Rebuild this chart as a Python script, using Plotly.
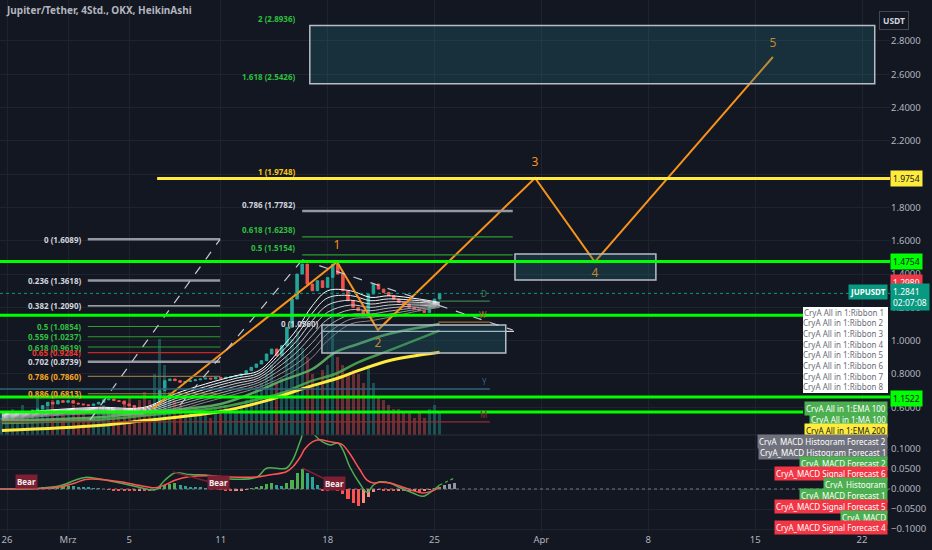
import pandas as pd
import plotly.graph_objects as go

# ---------------- values ----------------
# Heikin Ashi closes, sampled every 8 hours from 25 Feb 16:00 (2024)
candle_start = "2024-02-25 16:00"
closes = [
    0.53,
    0.54, 0.55, 0.56,     # Feb 26
    0.56, 0.57, 0.58,     # Feb 27
    0.59, 0.61, 0.63,     # Feb 28
    0.62, 0.64, 0.63,     # Feb 29
    0.64, 0.625, 0.62,    # Mar 1
    0.615, 0.61, 0.62,    # Mar 2
    0.63, 0.645, 0.65,    # Mar 3
    0.64, 0.635, 0.62,    # Mar 4
    0.61, 0.60, 0.59,     # Mar 5
    0.58, 0.575, 0.62,    # Mar 6
    0.70, 0.76, 0.77,     # Mar 7
    0.76, 0.75, 0.755,    # Mar 8
    0.76, 0.765, 0.77,    # Mar 9
    0.775, 0.77, 0.78,    # Mar 10
    0.775, 0.78, 0.785,   # Mar 11
    0.79, 0.80, 0.82,     # Mar 12
    0.84, 0.86, 0.88,     # Mar 13
    0.92, 0.95, 0.91,     # Mar 14
    0.97, 1.08, 1.25,     # Mar 15
    1.40, 1.46, 1.34,     # Mar 16
    1.30, 1.36, 1.32,     # Mar 17
    1.38, 1.46, 1.40,     # Mar 18
    1.30, 1.24, 1.20,     # Mar 19
    1.18, 1.15, 1.28,     # Mar 20
    1.34, 1.31, 1.29,     # Mar 21
    1.27, 1.25, 1.23,     # Mar 22
    1.22, 1.20, 1.19,     # Mar 23
    1.18, 1.17, 1.20,     # Mar 24
    1.25, 1.284,          # Mar 25
]
volumes = [
    5,
    4, 6, 5,  7, 5, 6,  9, 6, 7,  8, 5, 6,  6, 7, 5,  5, 4, 6,  5, 7, 6,
    6, 5, 8,  9, 7, 8,  10, 8, 14,  22, 16, 10,  8, 7, 6,  5, 6, 5,  5, 4, 6,
    6, 7, 5,  6, 7, 8,  9, 11, 12,  14, 16, 12,  13, 18, 22,  24, 20, 18,
    14, 12, 15,  16, 36, 18,  16, 14, 15,  14, 12, 16,  12, 9, 8,  7, 6, 6,
    5, 5, 4,  5, 4, 6,
    7, 5,
]
hist_vals = [
    0.000,
    0.000, 0.000, 0.001,  0.001, 0.001, 0.002,  0.002, 0.003, 0.004,
    0.005, 0.006, 0.007,  0.008, 0.007, 0.006,  0.005, 0.004, 0.002,
    0.001, 0.000, -0.002,  -0.003, -0.004, -0.004,  -0.005, -0.005, -0.004,
    -0.004, -0.005, -0.002,  0.006, 0.010, 0.012,  0.014, 0.010, 0.008,
    0.005, 0.004, 0.003,  0.002, 0.001, 0.000,  -0.002, -0.004, -0.005,
    -0.004, -0.003, -0.001,  0.002, 0.004, 0.008,  0.012, 0.015, 0.010,
    0.008, 0.014, 0.022,  0.040, 0.050, 0.040,  0.030, 0.010, -0.003,
    -0.004, -0.002, -0.006,  -0.012, -0.025, -0.035,  -0.042, -0.035, -0.020,
    -0.008, -0.002, -0.004,  -0.005, -0.006, -0.004,  -0.006, -0.008, -0.006,
    -0.007, -0.005, -0.002,
    0.002, 0.005,
]
hist_fc_times = ["2024-03-25 16:00", "2024-03-26 00:00", "2024-03-26 08:00"]
hist_fc_vals = [0.010, 0.013, 0.015]

macd_times = [
    "2024-02-25 13:00", "2024-02-28 04:00", "2024-02-29 11:00", "2024-03-01 11:00",
    "2024-03-02 03:00", "2024-03-03 02:00", "2024-03-04 10:00", "2024-03-05 17:00",
    "2024-03-06 17:00", "2024-03-07 08:00", "2024-03-08 00:00", "2024-03-09 00:00",
    "2024-03-10 07:00", "2024-03-11 14:00", "2024-03-13 09:00", "2024-03-14 00:00",
    "2024-03-15 07:00", "2024-03-15 17:00", "2024-03-16 05:00", "2024-03-16 12:00",
    "2024-03-17 00:00", "2024-03-17 12:00", "2024-03-18 04:00", "2024-03-18 16:00",
    "2024-03-19 00:00", "2024-03-19 11:00", "2024-03-20 02:00", "2024-03-20 14:00",
    "2024-03-21 00:00", "2024-03-21 10:00", "2024-03-22 02:00", "2024-03-22 18:00",
    "2024-03-23 14:00", "2024-03-24 06:00", "2024-03-24 22:00", "2024-03-25 08:00",
]
macd_vals = [
    0.000, 0.002, 0.008, 0.022, 0.029, 0.025, 0.015, 0.004, -0.002, 0.022,
    0.040, 0.036, 0.034, 0.025, 0.030, 0.052, 0.052, 0.072, 0.120, 0.145,
    0.140, 0.122, 0.110, 0.115, 0.098, 0.055, 0.015, -0.008, 0.010, 0.018,
    0.015, 0.003, -0.010, -0.018, -0.003, 0.010,
]
signal_vals = [
    0.000, 0.001, 0.005, 0.015, 0.024, 0.024, 0.018, 0.009, 0.003, 0.010,
    0.022, 0.031, 0.033, 0.030, 0.030, 0.034, 0.043, 0.055, 0.080, 0.100,
    0.118, 0.123, 0.118, 0.115, 0.110, 0.088, 0.050, 0.022, 0.015, 0.017,
    0.015, 0.007, -0.004, -0.010, -0.004, 0.004,
]
macd_fc_times = ["2024-03-25 08:00", "2024-03-26 08:00"]
macd_fc_vals = [0.010, 0.028]

bear_times = ["2024-02-27 06:00", "2024-03-10 20:00", "2024-03-18 11:30"]
bear_vals = [0.020, 0.017, 0.015]
div_times = [["2024-03-07 21:00", "2024-03-10 07:00"], ["2024-03-16 08:00", "2024-03-17 23:00"]]
div_vals = [[0.0425, 0.0175], [0.0525, 0.0225]]

ribbon_times = [
    "2024-02-25 16:00", "2024-02-29 00:00", "2024-03-03 00:00", "2024-03-06 00:00",
    "2024-03-08 00:00", "2024-03-10 00:00", "2024-03-12 00:00", "2024-03-13 12:00",
    "2024-03-15 00:00", "2024-03-16 00:00", "2024-03-17 00:00", "2024-03-18 00:00",
    "2024-03-19 12:00", "2024-03-20 20:00", "2024-03-22 00:00", "2024-03-24 00:00",
    "2024-03-25 08:00",
]
ribbon_1 = [0.560, 0.585, 0.600, 0.600, 0.680, 0.740, 0.790, 0.820, 0.960, 1.070, 1.210, 1.300, 1.300, 1.260, 1.270, 1.250, 1.230]
ribbon_2 = [0.554, 0.580, 0.594, 0.593, 0.666, 0.724, 0.774, 0.806, 0.934, 1.036, 1.166, 1.257, 1.271, 1.240, 1.251, 1.240, 1.226]
ribbon_3 = [0.549, 0.575, 0.589, 0.586, 0.651, 0.709, 0.759, 0.791, 0.909, 1.001, 1.121, 1.214, 1.243, 1.220, 1.233, 1.230, 1.221]
ribbon_4 = [0.543, 0.570, 0.583, 0.579, 0.637, 0.693, 0.743, 0.777, 0.883, 0.967, 1.077, 1.171, 1.214, 1.200, 1.214, 1.220, 1.217]
ribbon_5 = [0.537, 0.565, 0.577, 0.571, 0.623, 0.677, 0.727, 0.763, 0.857, 0.933, 1.033, 1.129, 1.186, 1.180, 1.196, 1.210, 1.213]
ribbon_6 = [0.531, 0.560, 0.571, 0.564, 0.609, 0.661, 0.711, 0.749, 0.831, 0.899, 0.989, 1.086, 1.157, 1.160, 1.177, 1.200, 1.209]
ribbon_7 = [0.526, 0.555, 0.566, 0.557, 0.594, 0.646, 0.696, 0.734, 0.806, 0.864, 0.944, 1.043, 1.129, 1.140, 1.159, 1.190, 1.204]
ribbon_8 = [0.520, 0.550, 0.560, 0.550, 0.580, 0.630, 0.680, 0.720, 0.780, 0.830, 0.900, 1.000, 1.100, 1.120, 1.140, 1.180, 1.200]

ma_times = [
    "2024-02-25 16:00", "2024-03-03 00:00", "2024-03-06 00:00", "2024-03-11 00:00",
    "2024-03-14 00:00", "2024-03-15 00:00", "2024-03-17 00:00", "2024-03-18 12:00",
    "2024-03-20 00:00", "2024-03-22 00:00", "2024-03-25 08:00",
]
ema100 = [0.520, 0.540, 0.570, 0.620, 0.720, 0.760, 0.830, 0.930, 0.980, 1.040, 1.100]
ma100 = [0.505, 0.525, 0.550, 0.600, 0.660, 0.686, 0.760, 0.800, 0.870, 0.940, 1.060]
ema200 = [0.460, 0.490, 0.520, 0.575, 0.640, 0.670, 0.730, 0.770, 0.820, 0.880, 0.930]

# Elliott wave drawing
wave_times = ["2024-03-06 12:00", "2024-03-18 14:40", "2024-03-21 07:00",
              "2024-03-31 14:00", "2024-04-04 12:00", "2024-04-16 04:00"]
wave_prices = [0.590, 1.473, 1.064, 1.977, 1.473, 2.704]
wave_labels = ["1", "2", "3", "4", "5"]
wave_label_prices = [1.569, 0.980, 2.067, 1.400, 2.782]

# Fibonacci retracement (left) and extension (upper)
fib_left_ratios = ["0", "0.236", "0.382", "0.5", "0.559", "0.618", "0.65", "0.702", "0.786", "0.886"]
fib_left_prices = [1.6089, 1.3618, 1.2090, 1.0854, 1.0237, 0.9619, 0.9284, 0.8739, 0.7860, 0.6813]
fib_left_span = ["2024-03-02 07:00", "2024-03-10 23:00"]
fib_up_ratios = ["0.5", "0.618", "0.786", "1", "1.618", "2"]
fib_up_prices = [1.5154, 1.6238, 1.7782, 1.9748, 2.5426, 2.8936]
fib_up_span = ["2024-03-16 08:00", "2024-03-30 03:00"]
fib_zero_price = 1.0560
fib_zero_span = ["2024-03-17 15:00", "2024-03-30 05:00"]
yellow_level = 1.9748
yellow_span = ["2024-03-06 20:00", "2024-04-23 20:00"]

# horizontal support / resistance levels
green_levels = [1.4754, 1.1522, 0.662, 0.572]
letter_levels = [("D", 1.238), ("W", 1.112), ("Y", 0.710), ("M", 0.512)]
letter_span_end = "2024-03-28 15:00"
last_price = 1.2841

# target boxes [x0, x1, y0, y1]
boxes = [
    ["2024-03-16 20:00", "2024-04-22 20:00", 2.5426, 2.8936],
    ["2024-03-30 06:30", "2024-04-08 12:00", 1.365, 1.521],
    ["2024-03-17 15:00", "2024-03-29 16:00", 0.926, 1.094],
]
dashed_lines = [
    [("2024-03-02 10:30", 0.524), ("2024-03-10 23:00", 1.6089)],
    [("2024-03-08 08:00", 0.614), ("2024-03-16 08:00", 1.485)],
    [("2024-03-16 08:00", 1.485), ("2024-03-30 03:00", 1.064)],
]

date_ticks = ["2024-02-26", "2024-03-01", "2024-03-05", "2024-03-11", "2024-03-18",
              "2024-03-25", "2024-04-01", "2024-04-08", "2024-04-15", "2024-04-22"]
date_labels = ["26", "Mrz", "5", "11", "18", "25", "Apr", "8", "15", "22"]
price_ticks = [0.6, 0.8, 1.0, 1.2, 1.4, 1.6, 1.8, 2.0, 2.2, 2.4, 2.6, 2.8]
macd_ticks = [-0.1, -0.05, 0.0, 0.05, 0.1]

# ---------------- styling ----------------
BG = "#131722"
GRID = "#1f232e"
TXT = "#b2b5be"
FONT = "Noto Sans"
UP, DOWN = "#26a69a", "#ef5350"
LIME = "#00ff00"
PLOT_W, PLOT_H = 890, 532
PRICE_BOTTOM = 1 - 435 / PLOT_H


def pxx(x):
    return x / PLOT_W


def pxy(y):
    return 1 - y / PLOT_H


candle_times = pd.date_range(candle_start, periods=len(closes), freq="8h")
opens = [closes[0]] + closes[:-1]
highs = [max(o, c) for o, c in zip(opens, closes)]
lows = [min(o, c) for o, c in zip(opens, closes)]
rising = [c >= o for o, c in zip(opens, closes)]
bar_w = 8 * 3600 * 1000 * 0.6

fig = go.Figure()

# volume (hidden base axis y, drawn first)
fig.add_bar(x=candle_times, y=volumes, width=bar_w, yaxis="y",
            marker=dict(color=["rgba(38,166,154,0.4)" if r else "rgba(239,83,80,0.4)" for r in rising],
                        line_width=0))

# candles
fig.add_trace(go.Candlestick(
    x=candle_times, open=opens, high=highs, low=lows, close=closes, yaxis="y3",
    increasing=dict(line=dict(color=UP, width=1), fillcolor=UP),
    decreasing=dict(line=dict(color=DOWN, width=1), fillcolor=DOWN),
    whiskerwidth=0, hoverinfo="skip"))

# ribbons
ribbons = [ribbon_1, ribbon_2, ribbon_3, ribbon_4, ribbon_5, ribbon_6, ribbon_7, ribbon_8]
ribbon_colors = ["#ffffff", "#ededed", "#dcdcdc", "#cbcbcb", "#bababa", "#a9a9a9", "#989898", "#878787"]
for vals, col in zip(ribbons, ribbon_colors):
    fig.add_scatter(x=ribbon_times, y=vals, yaxis="y3", mode="lines",
                    line=dict(color=col, width=1, shape="spline"), hoverinfo="skip")

fig.add_scatter(x=ma_times, y=ma100, yaxis="y3", mode="lines",
                line=dict(color="#4caf50", width=2.5, shape="spline"), opacity=0.85)
fig.add_scatter(x=ma_times, y=ema100, yaxis="y3", mode="lines",
                line=dict(color="#66bb6a", width=2.5, shape="spline"), opacity=0.85)
fig.add_scatter(x=ma_times, y=ema200, yaxis="y3", mode="lines",
                line=dict(color="#ffeb3b", width=3, shape="spline"))

# wave drawing
fig.add_scatter(x=wave_times, y=wave_prices, yaxis="y3", mode="lines",
                line=dict(color="#f7931a", width=2))
fig.add_scatter(x=wave_times[1:], y=wave_label_prices, yaxis="y3", mode="text",
                text=wave_labels, textfont=dict(color="#f7931a", size=12, family=FONT))

# MACD pane
hist_colors = []
for i, v in enumerate(hist_vals):
    prev = hist_vals[i - 1] if i else 0
    if v >= 0:
        hist_colors.append("#4caf50" if v >= prev else "#26a69a")
    else:
        hist_colors.append("#ff5252" if v <= prev else "#ff8a80")
fig.add_bar(x=candle_times, y=hist_vals, width=bar_w, yaxis="y2",
            marker=dict(color=hist_colors, line_width=0))
fig.add_bar(x=hist_fc_times, y=hist_fc_vals, width=bar_w, yaxis="y2",
            marker=dict(color="#b2b5be", line_width=0), opacity=0.8)
fig.add_scatter(x=macd_times, y=macd_vals, yaxis="y2", mode="lines",
                line=dict(color="#4caf50", width=1.5, shape="spline"))
fig.add_scatter(x=macd_times, y=signal_vals, yaxis="y2", mode="lines",
                line=dict(color="#ff5252", width=1.5, shape="spline"))
fig.add_scatter(x=macd_fc_times, y=macd_fc_vals, yaxis="y2", mode="lines",
                line=dict(color="#4caf50", width=1.2, dash="dot"))

shapes = []
ann = []


def seg(x0, x1, y, color, width=1, dash="solid", xref="x", yref="y3"):
    shapes.append(dict(type="line", xref=xref, yref=yref, x0=x0, x1=x1, y0=y, y1=y,
                       line=dict(color=color, width=width, dash=dash), layer="above"))


# left fib
left_label_col = ["#d1d4dc", "#d1d4dc", "#d1d4dc", "#2fbf3f", "#2fbf3f", "#2fbf3f",
                  "#e53935", "#d1d4dc", "#f5a623", "#f5a623"]
left_line_col = ["#9598a1", "#9598a1", "#c8c8c8", "#2e9e2e", "#2e9e2e", "#2e9e2e",
                 "#c62828", "#9598a1", "#8d7045", "#a08040"]
left_line_w = [2.5, 2.5, 1.3, 1.1, 1.1, 1.1, 1.1, 2.5, 1.1, 1.1]
for r, p, lc, c, w in zip(fib_left_ratios, fib_left_prices, left_label_col, left_line_col, left_line_w):
    seg(fib_left_span[0], fib_left_span[1], p, c, w)
    ann.append(dict(x=fib_left_span[0], y=p, xref="x", yref="y3", text=f"<b>{r} ({p:.4f})</b>",
                    xanchor="right", yanchor="middle", xshift=-5, showarrow=False,
                    font=dict(color=lc, size=8, family=FONT)))

# upper fib
up_label_col = ["#2fbf3f", "#2fbf3f", "#d1d4dc", "#f5c518", "#2fbf3f", "#2fbf3f"]
up_line_col = ["#2e9e2e", "#2e9e2e", "#9598a1", None, None, None]
up_line_w = [1.1, 1.1, 2.5, 0, 0, 0]
for r, p, lc, c, w in zip(fib_up_ratios, fib_up_prices, up_label_col, up_line_col, up_line_w):
    if c:
        seg(fib_up_span[0], fib_up_span[1], p, c, w)
    ann.append(dict(x=fib_up_span[0], y=p, xref="x", yref="y3", text=f"<b>{r} ({p:.4f})</b>",
                    xanchor="right", yanchor="middle", xshift=-5, yshift=7, showarrow=False,
                    font=dict(color=lc, size=8, family=FONT)))
seg(fib_zero_span[0], fib_zero_span[1], fib_zero_price, "#d1d4dc", 1.3)
ann.append(dict(x=fib_zero_span[0], y=fib_zero_price, xref="x", yref="y3",
                text=f"<b>0 ({fib_zero_price:.4f})</b>", xanchor="right", yanchor="middle",
                xshift=-2, yshift=8, showarrow=False, font=dict(color="#d1d4dc", size=8, family=FONT)))

# boxes
for x0, x1, y0, y1 in boxes:
    shapes.append(dict(type="rect", xref="x", yref="y3", x0=x0, x1=x1, y0=y0, y1=y1,
                       fillcolor="rgba(38,110,130,0.28)", line=dict(color="#b8bcc6", width=1.5),
                       layer="above"))

# dashed guide lines
for (xa, ya), (xb, yb) in dashed_lines:
    shapes.append(dict(type="line", xref="x", yref="y3", x0=xa, y0=ya, x1=xb, y1=yb,
                       line=dict(color="#c8cad0", width=1.2, dash="dash"), layer="above"))

# horizontal levels
seg(yellow_span[0], yellow_span[1], yellow_level, "#ffeb3b", 3)
green_ends = [1.0, pxx(803), 1.0, pxx(803)]
for p, e in zip(green_levels, green_ends):
    seg(0, e, p, LIME, 3, xref="paper")
letter_cols = {"D": "#3f7d4a", "W": "#a0702a", "Y": "#2f6478", "M": "#8f2f2f"}
for letter, p in letter_levels:
    start = "2024-03-25 06:00" if letter in "DW" else "2024-02-25 13:00"
    seg(start, letter_span_end, p, letter_cols[letter], 1.3)
    ann.append(dict(x=letter_span_end, y=p, xref="x", yref="y3", text=letter, xanchor="right",
                    yanchor="bottom", showarrow=False, xshift=-1,
                    font=dict(color=letter_cols[letter], size=8, family=FONT)))
seg(0, 1, last_price, "#089981", 1, "dot", xref="paper")

# MACD pane guides
seg(0, 1, 0, "#787b86", 1, "dot", xref="paper", yref="y2")
for (xa, xb), (va, vb) in zip(div_times, div_vals):
    shapes.append(dict(type="line", xref="x", yref="y2", x0=xa, x1=xb, y0=va, y1=vb,
                       line=dict(color="#7b1f33", width=1.5), layer="above"))
for t, v in zip(bear_times, bear_vals):
    ann.append(dict(x=t, y=v, xref="x", yref="y2", text="<b>Bear</b>", showarrow=False,
                    bgcolor="#7b1f33", borderpad=1, font=dict(color="#f0f0f0", size=8, family=FONT)))

# pane separator
shapes.append(dict(type="line", xref="paper", yref="paper", x0=0, x1=1, y0=PRICE_BOTTOM, y1=PRICE_BOTTOM,
                   line=dict(color="#2a2e39", width=1)))

# title and price-scale labels
ann.append(dict(x=0.005, y=pxy(10), xref="paper", yref="paper", xanchor="left", yanchor="middle",
                text="<b>Jupiter/Tether, 4Std., OKX, HeikinAshi</b>", showarrow=False,
                font=dict(color="#b2b5be", size=10, family=FONT)))
ann.append(dict(x=pxx(909), y=pxy(11), xref="paper", yref="paper", text="<b>USDT</b>", showarrow=False,
                bordercolor="#434651", borderwidth=1, borderpad=3, bgcolor=BG,
                font=dict(color="#d1d4dc", size=8.5, family=FONT)))
axis_boxes = [("1.9754", 178, "#ffeb3b", "#131722"), ("1.4754", 261, LIME, "#131722"),
              ("1.2980", 282, "#f23645", "#ffffff"), ("1.2841<br>02:07:08", 297, "#089981", "#ffffff"),
              ("1.1522", 398, LIME, "#131722")]
for txt, ypx, bg, fg in axis_boxes:
    ann.append(dict(x=1, y=pxy(ypx), xref="paper", yref="paper", xanchor="left", yanchor="middle",
                    xshift=0, text=txt, showarrow=False, bgcolor=bg, borderpad=2, align="left",
                    font=dict(color=fg, size=8.5, family=FONT)))
ann.append(dict(x=pxx(888), y=pxy(292), xref="paper", yref="paper", xanchor="right", yanchor="middle",
                text="<b>JUPUSDT</b>", showarrow=False, bgcolor="#089981", borderpad=1,
                font=dict(color="#ffffff", size=8, family=FONT)))

# indicator name tags
shapes.append(dict(type="rect", xref="paper", yref="paper", x0=pxx(803), x1=pxx(888),
                   y0=pxy(393), y1=pxy(307), fillcolor="#ffffff", line_width=0, layer="above"))
for i in range(8):
    ann.append(dict(x=pxx(886), y=pxy(312 + i * 10.7), xref="paper", yref="paper", xanchor="right",
                    yanchor="middle", text=f"CryA All in 1:Ribbon {i + 1}", showarrow=False,
                    font=dict(color="#6a6d78", size=8, family=FONT)))
tags = [("CryA All in 1:EMA 100", 408, "#4caf50", "#ffffff"),
        ("CryA All in 1:MA 100", 419, "#4caf50", "#ffffff"),
        ("CryA All in 1:EMA 200", 430, "#ffeb3b", "#131722"),
        ("CryA_MACD Histogram Forecast 2", 441, "#6f727c", "#ffffff"),
        ("CryA_MACD Histogram Forecast 1", 452, "#6f727c", "#ffffff"),
        ("CryA_MACD Forecast 2", 463, "#4caf50", "#ffffff"),
        ("CryA_MACD Signal Forecast 6", 473, "#f23645", "#ffffff"),
        ("CryA_Histogram", 484, "#4caf50", "#ffffff"),
        ("CryA_MACD Forecast 1", 495, "#4caf50", "#ffffff"),
        ("CryA_MACD Signal Forecast 5", 506, "#f23645", "#ffffff"),
        ("CryA_MACD", 517, "#4caf50", "#ffffff"),
        ("CryA_MACD Signal Forecast 4", 527, "#f23645", "#ffffff")]
for txt, ypx, bg, fg in tags:
    ann.append(dict(x=pxx(888), y=pxy(ypx), xref="paper", yref="paper", xanchor="right",
                    yanchor="middle", text=txt, showarrow=False, bgcolor=bg, borderpad=1,
                    font=dict(color=fg, size=8, family=FONT)))

fig.update_layout(
    width=932, height=550, margin=dict(l=0, r=42, t=0, b=18),
    paper_bgcolor=BG, plot_bgcolor=BG, showlegend=False, bargap=0,
    font=dict(family=FONT, size=9, color=TXT),
    shapes=shapes, annotations=ann,
    xaxis=dict(type="date", range=["2024-02-25 13:00", "2024-04-23 20:00"], anchor="y2",
               tickvals=date_ticks, ticktext=date_labels, showgrid=True, gridcolor=GRID,
               zeroline=False, showline=False, ticks="", rangeslider=dict(visible=False),
               tickfont=dict(size=9.5, color=TXT)),
    yaxis=dict(domain=[PRICE_BOTTOM, 1], range=[0, 100], visible=False, showgrid=False),
    yaxis3=dict(overlaying="y", side="right", anchor="x", range=[0.4336, 3.0462],
                tickvals=price_ticks, tickformat=".4f", showgrid=True, gridcolor=GRID,
                zeroline=False, ticks="", tickfont=dict(size=9.5, color=TXT), automargin=False),
    yaxis2=dict(domain=[0, PRICE_BOTTOM], side="right", anchor="x", range=[-0.1075, 0.135],
                tickvals=macd_ticks, tickformat=".4f", showgrid=True, gridcolor=GRID,
                zeroline=False, ticks="", tickfont=dict(size=9.5, color=TXT), automargin=False),
)

# the page's default body margin would shift the 932x550 figure inside the window
fig.write_html("out.html", config={"displayModeBar": False},
               post_script="document.body.style.margin='0';document.body.style.overflow='hidden';"
                           "document.body.style.background='#131722';")
